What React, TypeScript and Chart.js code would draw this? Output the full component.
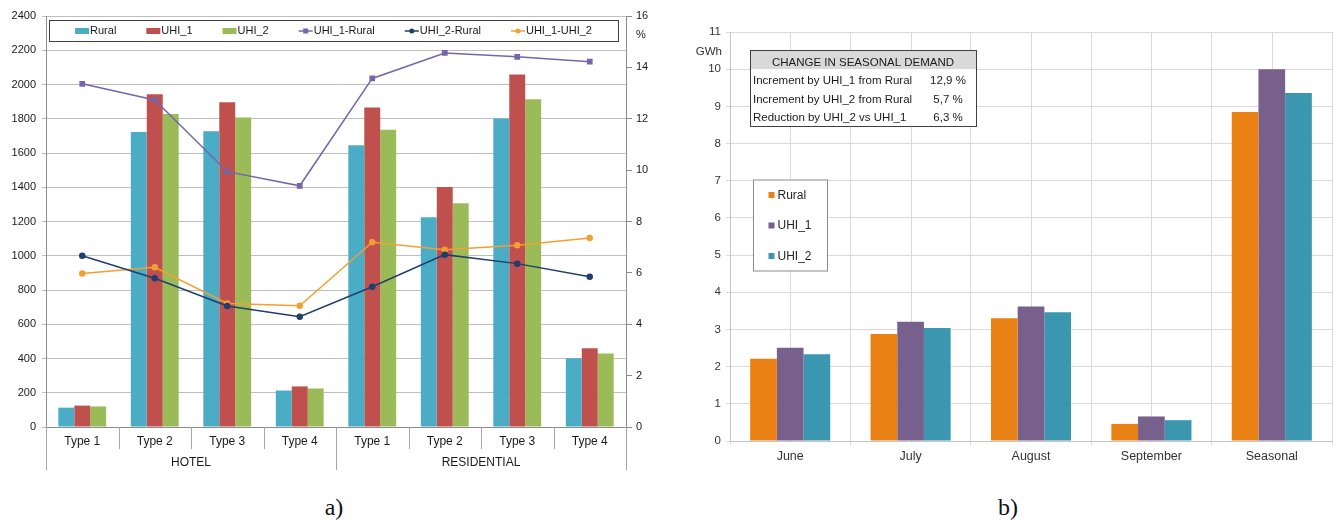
import { useEffect, useRef } from "react";
import { Chart, registerables } from "chart.js";

Chart.register(...registerables);

// ---------- Chart a) data ----------
const typeLabels = ["Type 1", "Type 2", "Type 3", "Type 4", "Type 1", "Type 2", "Type 3", "Type 4"];
const buildingGroups = ["HOTEL", "RESIDENTIAL"];
const groupSize = 4;
const ruralDemand = [113, 1722, 1727, 213, 1645, 1225, 1802, 402];
const uhi1Demand = [125, 1943, 1897, 237, 1866, 1402, 2058, 460];
const uhi2Demand = [120, 1828, 1808, 225, 1736, 1306, 1914, 429];
const uhi1RuralPct = [13.36, 12.73, 9.94, 9.39, 13.57, 14.56, 14.41, 14.22];
const uhi2RuralPct = [6.67, 5.79, 4.71, 4.29, 5.46, 6.71, 6.36, 5.85];
const uhi1Uhi2Pct = [5.98, 6.22, 4.81, 4.72, 7.19, 6.9, 7.08, 7.36];
const demandAxis = { min: 0, max: 2400, step: 200 };
const pctAxis = { min: 0, max: 16, step: 2, unit: "%" };

// ---------- Chart b) data ----------
const months = ["June", "July", "August", "September", "Seasonal"];
const ruralGWh = [2.21, 2.88, 3.3, 0.46, 8.85];
const uhi1GWh = [2.51, 3.21, 3.62, 0.66, 10.0];
const uhi2GWh = [2.33, 3.04, 3.46, 0.56, 9.36];
const gwhAxis = { min: 0, max: 11, step: 1, unit: "GWh" };
const tableTitle = "CHANGE IN SEASONAL DEMAND";
const tableLabels = ["Increment by UHI_1 from Rural", "Increment by UHI_2 from Rural", "Reduction by UHI_2 vs UHI_1"];
const tableValues = ["12,9 %", "5,7 %", "6,3 %"];

const FONT = '"Liberation Sans", Arial, sans-serif';
const plainTick = (v: any) => String(v);

const groupAxisPlugin = {
  id: "groupAxis",
  afterDraw(chart: any) {
    const { ctx, chartArea, scales } = chart;
    const x = scales.x;
    const n = typeLabels.length;
    ctx.save();
    ctx.strokeStyle = "#a6a6a6";
    ctx.lineWidth = 1;
    for (let i = 0; i <= n; i++) {
      const px = Math.round(x.getPixelForValue(i - 0.5)) + 0.5;
      const isGroup = i % groupSize === 0;
      ctx.beginPath();
      ctx.moveTo(px, chartArea.bottom);
      ctx.lineTo(px, chartArea.bottom + (isGroup ? 43 : 22));
      ctx.stroke();
    }
    ctx.fillStyle = "#1a1a1a";
    ctx.font = "12px " + FONT;
    ctx.textAlign = "center";
    ctx.textBaseline = "middle";
    buildingGroups.forEach((g, gi) => {
      const a = x.getPixelForValue(gi * groupSize - 0.5);
      const b = x.getPixelForValue(gi * groupSize + groupSize - 0.5);
      ctx.fillText(g, (a + b) / 2, chartArea.bottom + 36);
    });

    // unit on right axis
    ctx.font = "11px " + FONT;
    ctx.textAlign = "left";
    ctx.fillText(pctAxis.unit, chartArea.right + 10, chartArea.top + 19);

    // legend
    const lx0 = chartArea.left + 3;
    const lx1 = chartArea.right - 8;
    const ly0 = chartArea.top + 4;
    const lh = 21;
    ctx.fillStyle = "#fff";
    ctx.fillRect(lx0, ly0, lx1 - lx0, lh);
    ctx.strokeStyle = "#404040";
    ctx.strokeRect(lx0 + 0.5, ly0 + 0.5, lx1 - lx0, lh);
    const ds = chart.data.datasets;
    const items = ds.map((d: any) => ({ d, w: 15 + ctx.measureText(d.label).width }));
    const gap = 30;
    const total = items.reduce((s: number, it: any) => s + it.w, 0) + gap * (items.length - 1);
    let cx = (lx0 + lx1) / 2 - total / 2;
    const cy = ly0 + lh / 2 + 0.5;
    items.forEach((it: any) => {
      const d = it.d;
      if (d.type === "line") {
        ctx.strokeStyle = d.borderColor;
        ctx.lineWidth = 1.5;
        ctx.beginPath();
        ctx.moveTo(cx, cy);
        ctx.lineTo(cx + 14, cy);
        ctx.stroke();
        ctx.fillStyle = d.borderColor;
        if (d.pointStyle === "rect") {
          ctx.fillRect(cx + 4.5, cy - 2.5, 5, 5);
        } else {
          ctx.beginPath();
          ctx.arc(cx + 7, cy, 2.5, 0, Math.PI * 2);
          ctx.fill();
        }
      } else {
        ctx.fillStyle = d.backgroundColor;
        ctx.fillRect(cx, cy - 3, 14, 6);
      }
      ctx.fillStyle = "#1a1a1a";
      ctx.fillText(d.label, cx + 15, cy);
      cx += it.w + gap;
    });
    ctx.restore();
  },
};

const seasonalPlugin = {
  id: "seasonalExtras",
  beforeDatasetsDraw(chart: any) {
    const { ctx, chartArea, scales } = chart;
    const x = scales.x;
    ctx.save();
    ctx.strokeStyle = "#d9d9d9";
    ctx.lineWidth = 1;
    months.forEach((_, i) => {
      const px = Math.round(x.getPixelForValue(i)) + 0.5;
      ctx.beginPath();
      ctx.moveTo(px, chartArea.top);
      ctx.lineTo(px, chartArea.bottom);
      ctx.stroke();
    });
    ctx.restore();
  },
  afterDraw(chart: any) {
    const { ctx, chartArea, scales } = chart;
    const y = scales.y;
    ctx.save();
    ctx.fillStyle = "#333";
    ctx.font = "11.5px " + FONT;
    ctx.textAlign = "right";
    ctx.textBaseline = "middle";
    ctx.fillText(gwhAxis.unit, chartArea.left - 8, y.getPixelForValue(10.5) + 1);

    // table
    const bx = chartArea.left + 20;
    const by = 50;
    const bw = 226;
    const hh = 19;
    const rh = 18.5;
    const bh = 76;
    ctx.fillStyle = "#fff";
    ctx.fillRect(bx, by, bw, bh);
    ctx.fillStyle = "#d9d9d9";
    ctx.fillRect(bx, by, bw, hh);
    ctx.strokeStyle = "#404040";
    ctx.lineWidth = 1;
    ctx.strokeRect(bx + 0.5, by + 0.5, bw, bh);
    ctx.fillStyle = "#1a1a1a";
    ctx.textAlign = "center";
    ctx.fillText(tableTitle, bx + bw / 2, by + 12.5);
    tableLabels.forEach((lab, i) => {
      const ty = by + 31 + rh * i;
      ctx.textAlign = "left";
      ctx.fillText(lab, bx + 3, ty);
      ctx.textAlign = "center";
      ctx.fillText(tableValues[i], bx + 198, ty);
    });

    // legend
    const lx = chartArea.left + 23;
    const ly = chartArea.top + 147.5;
    ctx.fillStyle = "#fff";
    ctx.fillRect(lx, ly, 74, 91);
    ctx.strokeStyle = "#8c8c8c";
    ctx.strokeRect(lx + 0.5, ly + 0.5, 74, 91);
    ctx.font = "12px " + FONT;
    ctx.textAlign = "left";
    chart.data.datasets.forEach((d: any, i: number) => {
      const cy = ly + 16 + 30.5 * i;
      ctx.fillStyle = d.backgroundColor;
      ctx.fillRect(lx + 15.5, cy - 3.5, 6, 6);
      ctx.fillStyle = "#262626";
      ctx.fillText(d.label, lx + 24.5, cy);
    });
    ctx.restore();
  },
};

export default function App() {
  const refA = useRef<HTMLCanvasElement>(null);
  const refB = useRef<HTMLCanvasElement>(null);

  useEffect(() => {
    Chart.defaults.font.family = FONT;
    const barCommon = { yAxisID: "y", order: 2, barPercentage: 1, categoryPercentage: 0.66, borderWidth: 0 };
    const lineCommon = { yAxisID: "y1", order: 1, borderWidth: 1.5, tension: 0, fill: false };
    const chartA = new Chart(refA.current as HTMLCanvasElement, {
      type: "bar",
      data: {
        labels: typeLabels,
        datasets: [
          { type: "bar", label: "Rural", data: ruralDemand, backgroundColor: "#4BACC6", ...barCommon },
          { type: "bar", label: "UHI_1", data: uhi1Demand, backgroundColor: "#C0504D", ...barCommon },
          { type: "bar", label: "UHI_2", data: uhi2Demand, backgroundColor: "#9BBB59", ...barCommon },
          { type: "line", label: "UHI_1-Rural", data: uhi1RuralPct, borderColor: "#7466A8", backgroundColor: "#7466A8", pointStyle: "rect", pointRadius: 3, ...lineCommon },
          { type: "line", label: "UHI_2-Rural", data: uhi2RuralPct, borderColor: "#1F3F6E", backgroundColor: "#1F3F6E", pointStyle: "circle", pointRadius: 2.5, ...lineCommon },
          { type: "line", label: "UHI_1-UHI_2", data: uhi1Uhi2Pct, borderColor: "#F2A032", backgroundColor: "#F2A032", pointStyle: "circle", pointRadius: 2.5, ...lineCommon },
        ] as any,
      },
      options: {
        animation: false,
        responsive: false,
        layout: { padding: { top: 16, left: 0, right: 0, bottom: 0 } },
        plugins: { legend: { display: false }, tooltip: { enabled: false } },
        scales: {
          x: {
            offset: true,
            grid: { display: false, drawTicks: false },
            border: { display: true, color: "#8c8c8c" },
            ticks: { padding: 7, color: "#1a1a1a", font: { size: 12 }, maxRotation: 0, autoSkip: false },
            afterFit: (s: any) => { s.height = 53; },
          },
          y: {
            position: "left",
            min: demandAxis.min,
            max: demandAxis.max,
            ticks: { stepSize: demandAxis.step, padding: 6, color: "#1a1a1a", font: { size: 11 }, callback: plainTick },
            grid: { color: "#bfbfbf", tickLength: 4 },
            border: { color: "#8c8c8c" },
            afterFit: (s: any) => { s.width = 46; },
          },
          y1: {
            position: "right",
            min: pctAxis.min,
            max: pctAxis.max,
            ticks: { stepSize: pctAxis.step, padding: 4, color: "#1a1a1a", font: { size: 11 }, callback: plainTick },
            grid: { drawOnChartArea: false, tickLength: 6, color: "#8c8c8c" },
            border: { color: "#8c8c8c" },
            afterFit: (s: any) => { s.width = 54; },
          },
        } as any,
      },
      plugins: [groupAxisPlugin],
    });

    const barB = { barPercentage: 1, categoryPercentage: 0.665, borderWidth: 0 };
    const chartB = new Chart(refB.current as HTMLCanvasElement, {
      type: "bar",
      data: {
        labels: months,
        datasets: [
          { label: "Rural", data: ruralGWh, backgroundColor: "#E98115", ...barB },
          { label: "UHI_1", data: uhi1GWh, backgroundColor: "#77608C", ...barB },
          { label: "UHI_2", data: uhi2GWh, backgroundColor: "#3A97AF", ...barB },
        ],
      },
      options: {
        animation: false,
        responsive: false,
        layout: { padding: { top: 32, left: 0, right: 4, bottom: 0 } },
        plugins: { legend: { display: false }, tooltip: { enabled: false } },
        scales: {
          x: {
            offset: true,
            grid: { offset: true, color: "#d9d9d9", tickLength: 4 },
            border: { color: "#c4c4c4" },
            ticks: { padding: 4, color: "#333", font: { size: 12.5 }, maxRotation: 0 },
            afterFit: (s: any) => { s.height = 39; },
          },
          y: {
            min: gwhAxis.min,
            max: gwhAxis.max,
            ticks: { stepSize: gwhAxis.step, padding: 5, color: "#333", font: { size: 11.5 }, callback: plainTick },
            grid: { color: "#d9d9d9", tickLength: 4 },
            border: { color: "#c4c4c4" },
            afterFit: (s: any) => { s.width = 50; },
          },
        } as any,
      },
      plugins: [seasonalPlugin],
    });

    return () => {
      chartA.destroy();
      chartB.destroy();
    };
  }, []);

  const capStyle: any = {
    position: "absolute",
    top: 495,
    width: 200,
    textAlign: "center",
    fontFamily: '"Liberation Serif", "Times New Roman", serif',
    fontSize: 24,
    lineHeight: "24px",
    color: "#111",
  };

  return (
    <div style={{ position: "absolute", left: 0, top: 0, width: 1336, height: 522, background: "#fff", overflow: "hidden" }}>
      <canvas ref={refA} width={680} height={480} style={{ position: "absolute", left: 0, top: 0, width: 680, height: 480 }} />
      <canvas ref={refB} width={656} height={480} style={{ position: "absolute", left: 680, top: 0, width: 656, height: 480 }} />
      <div style={{ ...capStyle, left: 234 }}>a)</div>
      <div style={{ ...capStyle, left: 908 }}>b)</div>
    </div>
  );
}
